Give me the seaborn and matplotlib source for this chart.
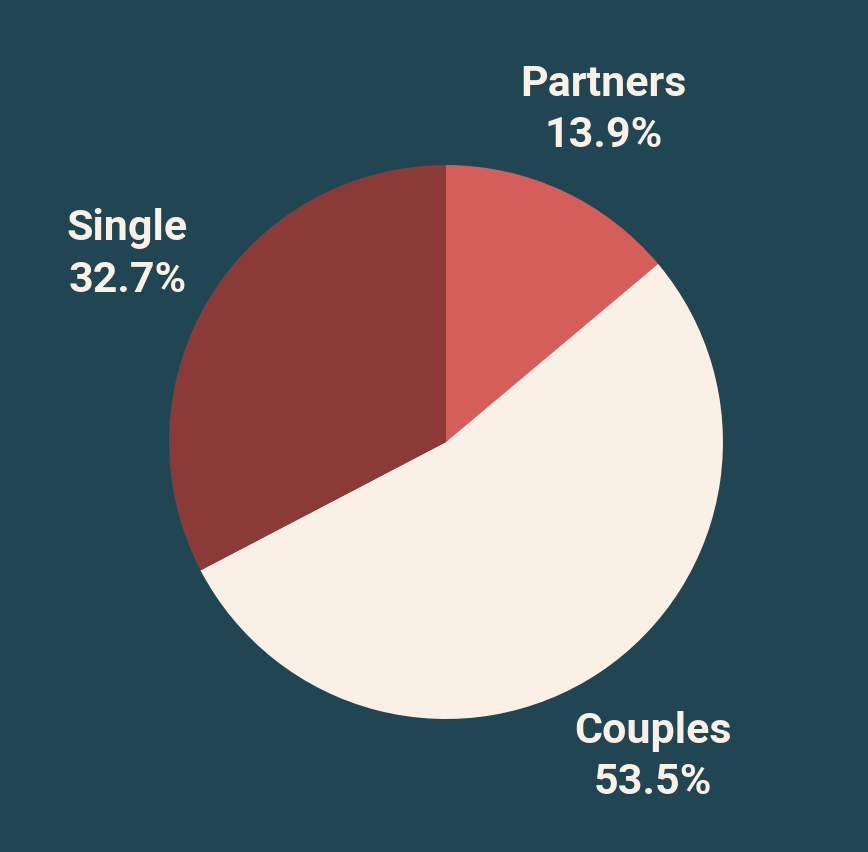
import matplotlib
matplotlib.use("Agg")
import matplotlib.pyplot as plt
import seaborn as sns

# data
categories = ["Partners", "Couples", "Single"]
shares = [13.9, 53.5, 32.7]
colors = ["#d45f5a", "#fbf0e6", "#8b3a37"]

bg = "#1f4652"
text_col = "#fbf0e6"

sns.set_theme(style="white")
plt.rcParams['font.family'] = ['Roboto', 'DejaVu Sans']

fig = plt.figure(figsize=(8.68, 8.52), dpi=100, facecolor=bg)
ax = fig.add_axes([0.1947, 0.1561, 0.6382, 0.6502])
ax.set_facecolor(bg)

labels = [f"{c}\n{v:.1f}%" for c, v in zip(categories, shares)]
wedges, texts = ax.pie(shares, labels=labels, colors=colors, startangle=90,
                       counterclock=False, labeldistance=1.345,
                       wedgeprops=dict(linewidth=0))
for t in texts:
    x, y = t.get_position()
    t.set_position((x, y - 0.02))
    t.set_ha("center")
    t.set_va("center")
    t.set_color(text_col)
    t.set_fontsize(31)
    t.set_fontweight("bold")
    t.set_linespacing(1.32)

ax.set_xlim(-1, 1)
ax.set_ylim(-1, 1)
ax.set_aspect("auto")
ax.axis("off")

fig.savefig("out.png", dpi=100, facecolor=bg)
